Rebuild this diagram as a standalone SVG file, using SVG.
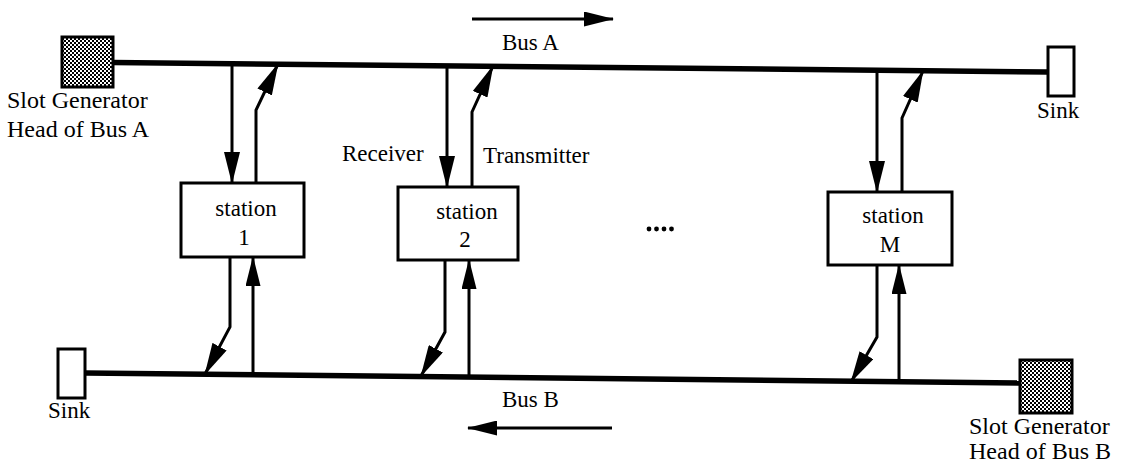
<svg xmlns="http://www.w3.org/2000/svg" width="1122" height="462" viewBox="0 0 1122 462">
<style>
.t{font-family:"Liberation Serif","Times New Roman",serif;font-size:23px;fill:#000}
.tl{font-family:"Liberation Serif","Times New Roman",serif;font-size:24px;fill:#000}
.bus{stroke:#000;stroke-width:5.5;fill:none}
.ln{stroke:#000;stroke-width:3;fill:none;stroke-linejoin:miter}
.box{fill:#fff;stroke:#000;stroke-width:3}
.gen{fill:url(#chk);stroke:#000;stroke-width:3}
.sink{fill:#fff;stroke:#000;stroke-width:3}
</style>
<defs>
<pattern id="chk" width="4" height="4" patternUnits="userSpaceOnUse">
<rect width="4" height="4" fill="#fff"/>
<rect width="2" height="2" fill="#000"/>
<rect x="2" y="2" width="2" height="2" fill="#000"/>
</pattern>
<marker id="ah" markerUnits="userSpaceOnUse" markerWidth="32" markerHeight="16" viewBox="0 0 32 16" refX="31" refY="8" orient="auto">
<path d="M0,0 L32,8 L0,16 Z" fill="#000"/>
</marker>
<marker id="ahs" markerUnits="userSpaceOnUse" markerWidth="30" markerHeight="15" viewBox="0 0 30 15" refX="29" refY="7.5" orient="auto">
<path d="M0,0 L30,7.5 L0,15 Z" fill="#000"/>
</marker>
</defs>
<rect width="1122" height="462" fill="#fff"/>

<g id="connectors">
<line id="busA" class="bus" x1="113" y1="62.5" x2="1048" y2="72"/>
<line id="busB" class="bus" x1="85" y1="373" x2="1020" y2="383"/>
<line class="ln" x1="472" y1="19" x2="613" y2="19" marker-end="url(#ahs)"/>
<line class="ln" x1="612" y1="428" x2="468" y2="428" marker-end="url(#ahs)"/>
<!-- station 1 -->
<line class="ln" x1="232" y1="64" x2="232" y2="183" marker-end="url(#ah)"/>
<polyline class="ln" points="256,183 256,110 278,64" marker-end="url(#ah)"/>
<polyline class="ln" points="230,257 230,327 205,374" marker-end="url(#ah)"/>
<line class="ln" x1="253" y1="375" x2="253" y2="257" marker-end="url(#ahs)"/>
<!-- station 2 -->
<line class="ln" x1="447" y1="66" x2="447" y2="187" marker-end="url(#ah)"/>
<polyline class="ln" points="472,187 472,112 493,66" marker-end="url(#ah)"/>
<polyline class="ln" points="445,260 445,332 421,376" marker-end="url(#ah)"/>
<line class="ln" x1="469" y1="377" x2="469" y2="260" marker-end="url(#ahs)"/>
<!-- station M -->
<line class="ln" x1="877" y1="70" x2="877" y2="192" marker-end="url(#ah)"/>
<polyline class="ln" points="902,192 902,118 923,71" marker-end="url(#ah)"/>
<polyline class="ln" points="877,265 877,337 851,382" marker-end="url(#ah)"/>
<line class="ln" x1="899" y1="382" x2="899" y2="265" marker-end="url(#ahs)"/>
</g>

<g id="genA">
<rect class="gen" x="62" y="37" width="51" height="50"/>
<text class="tl" x="7" y="108">Slot Generator</text>
<text class="tl" x="7" y="137">Head of Bus A</text>
</g>
<g id="sinkA">
<rect class="sink" x="1048" y="47" width="26" height="49"/>
<text class="t" x="1037" y="118">Sink</text>
</g>
<g id="sinkB">
<rect class="sink" x="58" y="349" width="27" height="49"/>
<text class="t" x="48" y="418">Sink</text>
</g>
<g id="genB">
<rect class="gen" x="1020" y="360" width="52" height="53"/>
<text class="tl" x="969" y="434">Slot Generator</text>
<text class="tl" x="969" y="459">Head of Bus B</text>
</g>

<g id="station1">
<rect class="box" x="181" y="183" width="123" height="74"/>
<text class="t" x="246" y="216" text-anchor="middle">station</text>
<text class="t" x="244" y="245" text-anchor="middle">1</text>
</g>
<g id="station2">
<rect class="box" x="398" y="187" width="120" height="73"/>
<text class="t" x="467" y="219" text-anchor="middle">station</text>
<text class="t" x="465" y="247" text-anchor="middle">2</text>
</g>
<g id="stationM">
<rect class="box" x="828" y="192" width="124" height="73"/>
<text class="t" x="893" y="223" text-anchor="middle">station</text>
<text class="t" x="890" y="252" text-anchor="middle">M</text>
</g>

<g id="labels">
<text class="t" x="502" y="50">Bus A</text>
<text class="t" x="502" y="407">Bus B</text>
<text class="t" x="342" y="161">Receiver</text>
<text class="t" x="483" y="163">Transmitter</text>
</g>
<g id="ellipsis" fill="#000">
<circle cx="649" cy="229" r="2.4"/>
<circle cx="656.5" cy="229" r="2.4"/>
<circle cx="664" cy="229" r="2.4"/>
<circle cx="671.5" cy="229" r="2.4"/>
</g>
</svg>
